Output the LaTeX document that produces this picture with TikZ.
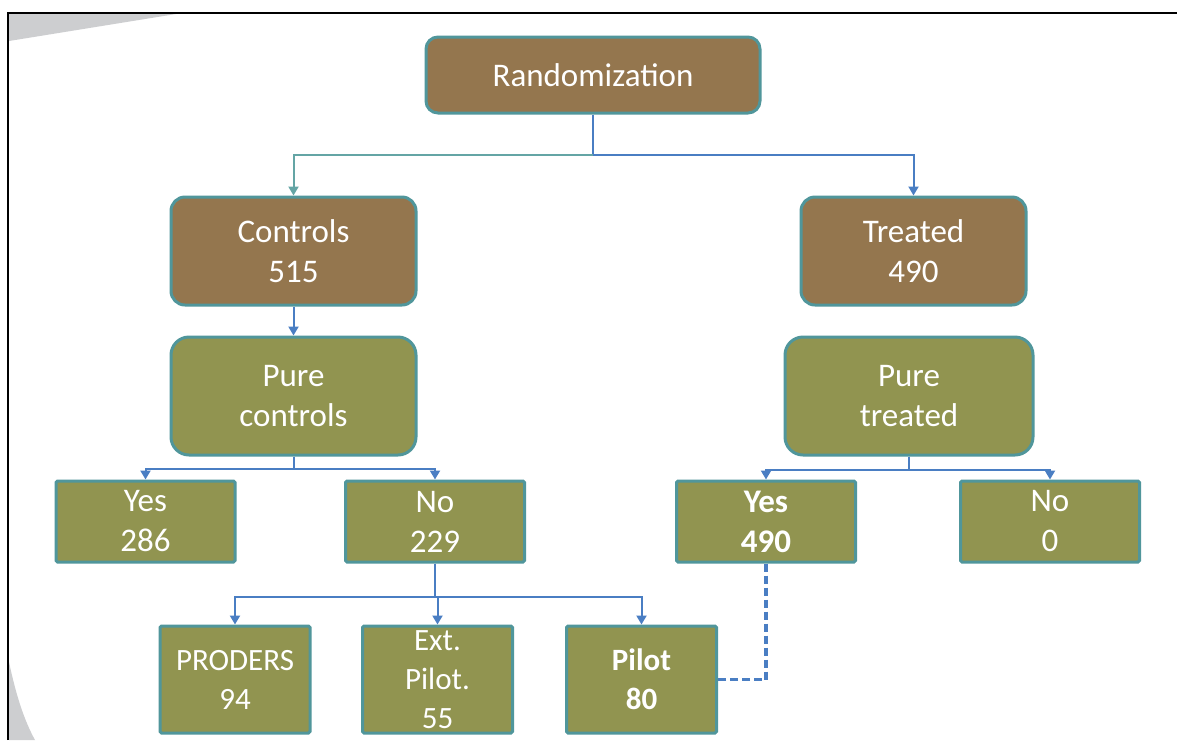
\documentclass[tikz,border=0pt]{standalone}
\usepackage{fontspec}
\setmainfont{Carlito}
\usetikzlibrary{arrows.meta}
\definecolor{brownfill}{RGB}{148,118,78}
\definecolor{olivefill}{RGB}{145,148,80}
\definecolor{tealline}{RGB}{80,150,155}
\definecolor{blueline}{RGB}{74,126,195}
\definecolor{tealconn}{RGB}{100,165,165}
\definecolor{slidegrey}{RGB}{205,206,208}
\tikzset{
  box/.style={draw=tealline, line width=3pt, text=white, inner sep=0pt, align=center,
    font=\fontsize{33}{40}\selectfont},
  brownbox/.style={box, fill=brownfill, rounded corners=14pt},
  olivebox/.style={box, fill=olivefill, rounded corners=18pt},
  sqbox/.style={box, fill=olivefill, rounded corners=1.5pt, minimum width=179pt, minimum height=81pt},
  smallbox/.style={box, fill=olivefill, rounded corners=1.5pt, minimum width=150pt, minimum height=107pt,
    font=\fontsize{31}{39}\selectfont},
  conn/.style={draw=blueline, line width=2pt, -{Triangle[width=10pt,length=9pt]}},
  tconn/.style={draw=tealconn, line width=2pt, -{Triangle[width=10pt,length=9pt]}},
  dconn/.style={draw=blueline, line width=3.5pt, dash pattern=on 8pt off 4pt},
}
\begin{document}
\begin{tikzpicture}[x=1pt,y=-1pt]
\useasboundingbox (0,0) rectangle (1177,740);
\fill[white] (0,0) rectangle (1177,740);
% slide background pieces
\fill[slidegrey] (9,14) -- (176,14) -- (9,41) -- cycle;
\fill[slidegrey] (9,662) .. controls (16,695) and (24,720) .. (35,740) -- (9,740) -- cycle;
% frame
\draw[line width=2.5pt] (8,740) -- (8,13) -- (1177,13);

% nodes
\node[brownbox, rounded corners=12pt, minimum width=334pt, minimum height=76pt] (rand) at (593,75) {Randomization};
\node[brownbox, minimum width=245pt, minimum height=108pt] (ctrl) at (293.5,251) {Controls\\515};
\node[brownbox, minimum width=225pt, minimum height=108pt] (treat) at (913.5,251) {Treated\\490};
\node[olivebox, minimum width=245pt, minimum height=118pt] (pc) at (293.5,396) {Pure\\controls};
\node[olivebox, minimum width=248pt, minimum height=118pt] (pt) at (909,396) {Pure\\treated};
\node[sqbox] (yes1) at (145.5,521.5) {Yes\\286};
\node[sqbox] (no1) at (435,521.5) {No\\229};
\node[sqbox] (yes2) at (766,521.5) {\textbf{Yes}\\\textbf{490}};
\node[sqbox] (no2) at (1050,521.5) {No\\0};
\node[smallbox] (proders) at (235,679.5) {PRODERS\\94};
\node[smallbox] (ext) at (437.5,679.5) {Ext.\\Pilot.\\55};
\node[smallbox] (pilot) at (641.5,679.5) {\textbf{Pilot}\\\textbf{80}};

% connectors
\coordinate (j1) at (593,155);
\draw[draw=blueline, line width=2pt] (rand.south) -- (j1);
\draw[tconn] (j1) -| (ctrl.north);
\draw[conn] (j1) -| (treat.north);
\draw[conn] (ctrl.south) -- (pc.north);
\draw[conn] (pc.south) -- ++(0,12) -| (yes1.north);
\draw[conn] (pc.south) -- ++(0,12) -| (no1.north);
\draw[conn] (pt.south) -- ++(0,13) -| (yes2.north);
\draw[conn] (pt.south) -- ++(0,13) -| (no2.north);
\draw[conn] (no1.south) -- ++(0,33) -| (proders.north);
\draw[conn] (no1.south) -- ++(0,33) -| (ext.north);
\draw[conn] (no1.south) -- ++(0,33) -| (pilot.north);
\draw[dconn] (yes2.south) |- (pilot.east);
\end{tikzpicture}
\end{document}
